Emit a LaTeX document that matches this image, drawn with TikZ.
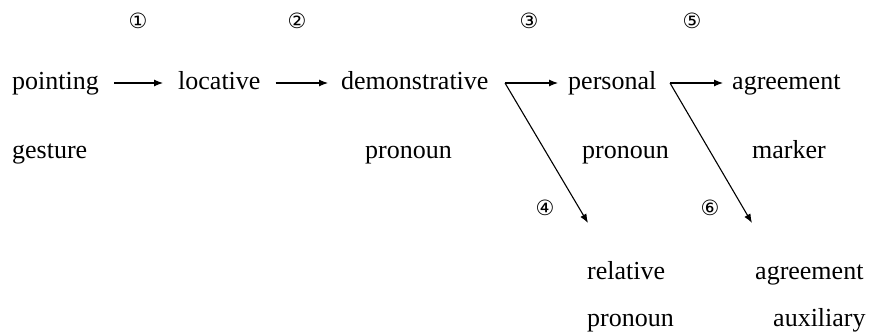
\documentclass[tikz,border=0pt]{standalone}
\usepackage{fontspec}
\setmainfont{Liberation Serif}
\newfontfamily\circfont{DejaVu Sans}
\usetikzlibrary{arrows.meta}
\tikzset{
  word/.style={anchor=base west, inner sep=0pt, font=\fontsize{26}{30}\selectfont, text height=14pt, text depth=0pt},
  num/.style={inner sep=0pt, font=\circfont\fontsize{21}{24}\selectfont},
  arr/.style={line width=1.1pt, -{Latex[length=9pt,width=7pt]}},
}
\begin{document}
\begin{tikzpicture}[x=1pt,y=1pt]
\useasboundingbox (0,0) rectangle (870,-334);
% row 1
\node[word] (pointing) at (12,-90) {pointing};
\node[word] (locative) at (178,-90) {locative};
\node[word] (demo) at (341,-90) {demonstrative};
\node[word] (personal) at (568,-90) {personal};
\node[word] (agree1) at (732,-90) {agreement};
% row 2
\node[word] (gesture) at (12,-158) {gesture};
\node[word] (pron1) at (365,-158) {pronoun};
\node[word] (pron2) at (582,-158) {pronoun};
\node[word] (marker) at (752,-158) {marker};
% row 3, 4
\node[word] (relative) at (587,-279) {relative};
\node[word] (agree2) at (755,-279) {agreement};
\node[word] (pron3) at (587,-326) {pronoun};
\node[word] (aux) at (773,-326) {auxiliary};
% numbers
\node[num] (n1) at (138,-21) {①};
\node[num] (n2) at (297,-21) {②};
\node[num] (n3) at (529,-21) {③};
\node[num] (n5) at (692,-21) {⑤};
\node[num] (n4) at (545,-208) {④};
\node[num] (n6) at (710,-208) {⑥};
% branch points and tips
\coordinate (b3) at (505,-83);
\coordinate (b5) at (670,-83);
\coordinate (t4) at (588,-223);
\coordinate (t6) at (752,-223);
% arrows
\draw[arr, shorten <=15pt, shorten >=15pt] (pointing.east) -- (locative.west);
\draw[arr, shorten <=15pt, shorten >=13pt] (locative.east) -- (demo.west);
\draw[arr, shorten >=10pt] (b3) -- (personal.west);
\draw[arr, shorten >=9pt] (b5) -- (agree1.west);
\draw[arr] (b3) -- (t4);
\draw[arr] (b5) -- (t6);
\end{tikzpicture}
\end{document}
